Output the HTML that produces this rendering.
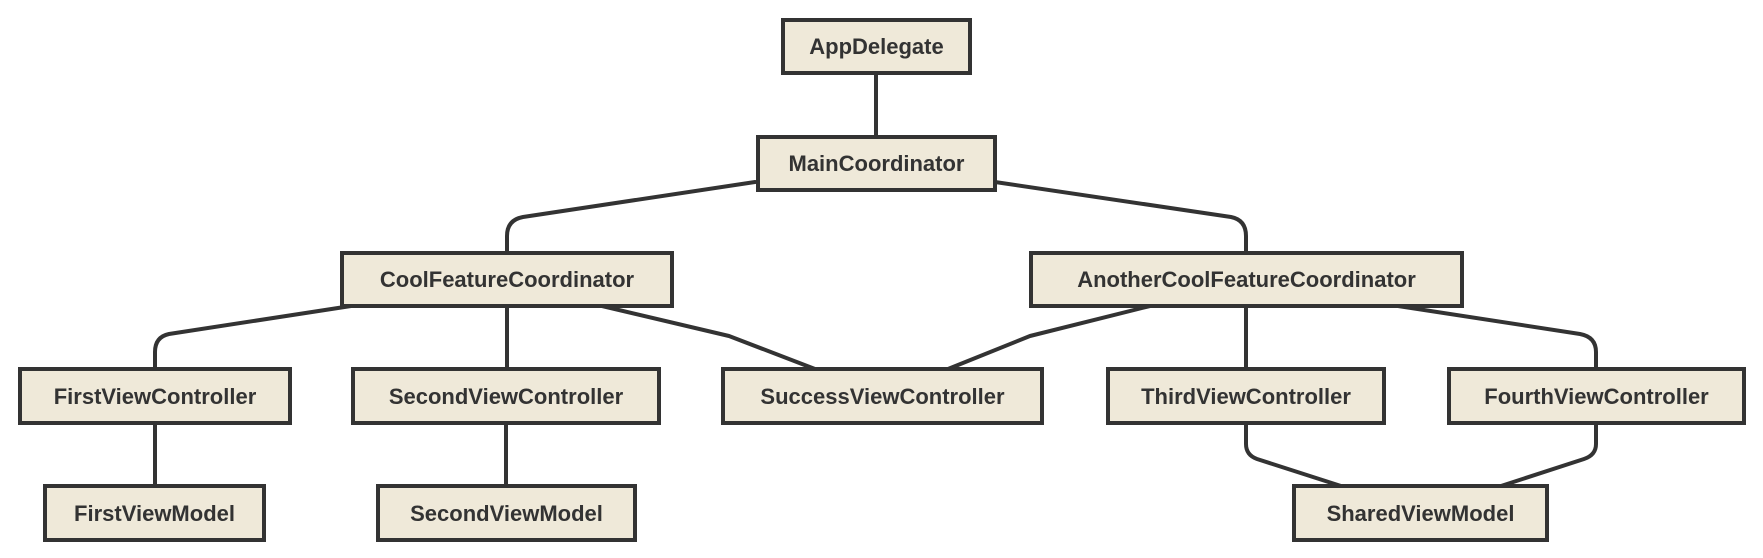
<!DOCTYPE html>
<html><head><meta charset="utf-8"><style>
html,body{margin:0;padding:0;background:#fff;}
svg{display:block;}
text{font-family:"Liberation Sans",Arial,sans-serif;font-weight:bold;font-size:22px;fill:#333;}
</style></head><body>
<svg width="1763" height="558" viewBox="0 0 1763 558" xmlns="http://www.w3.org/2000/svg">
<g fill="none" stroke="#333" stroke-width="4" stroke-linejoin="round" stroke-linecap="round">
<path d="M876 73 V137"/>
<path d="M755 182 L523 217 Q507 220 507 236 V253"/>
<path d="M995 182 L1231 217 Q1246 220 1246 236 V253"/>
<path d="M351 306 L169 334 Q155 337 155 352 V369"/>
<path d="M507 306 V369"/>
<path d="M602 306 L729 336 L815 369"/>
<path d="M1150 306 L1030 336 L948 369"/>
<path d="M1246 306 V369"/>
<path d="M1398 306 L1580 334 Q1596 337 1596 352 V369"/>
<path d="M155 423 V486"/>
<path d="M506 423 V486"/>
<path d="M1246 423 V444 Q1246 455 1257 459 L1341 486"/>
<path d="M1596 423 V444 Q1596 455 1584 459 L1501 486"/>
</g>
<g fill="#efe9d9" stroke="#333" stroke-width="4">
<rect x="783" y="20" width="187" height="53"/>
<rect x="758" y="137" width="237" height="53"/>
<rect x="342" y="253" width="330" height="53"/>
<rect x="1031" y="253" width="431" height="53"/>
<rect x="20" y="369" width="270" height="54"/>
<rect x="353" y="369" width="306" height="54"/>
<rect x="723" y="369" width="319" height="54"/>
<rect x="1108" y="369" width="276" height="54"/>
<rect x="1449" y="369" width="295" height="54"/>
<rect x="45" y="486" width="219" height="54"/>
<rect x="378" y="486" width="257" height="54"/>
<rect x="1294" y="486" width="253" height="54"/>
</g>
<g text-anchor="middle">
<text x="876.5" y="54">AppDelegate</text>
<text x="876.5" y="171">MainCoordinator</text>
<text x="507" y="287">CoolFeatureCoordinator</text>
<text x="1246.5" y="287">AnotherCoolFeatureCoordinator</text>
<text x="155" y="404">FirstViewController</text>
<text x="506" y="404">SecondViewController</text>
<text x="882.5" y="404">SuccessViewController</text>
<text x="1246" y="404">ThirdViewController</text>
<text x="1596.5" y="404">FourthViewController</text>
<text x="154.5" y="521">FirstViewModel</text>
<text x="506.5" y="521">SecondViewModel</text>
<text x="1420.5" y="521">SharedViewModel</text>
</g>
</svg>
</body></html>
